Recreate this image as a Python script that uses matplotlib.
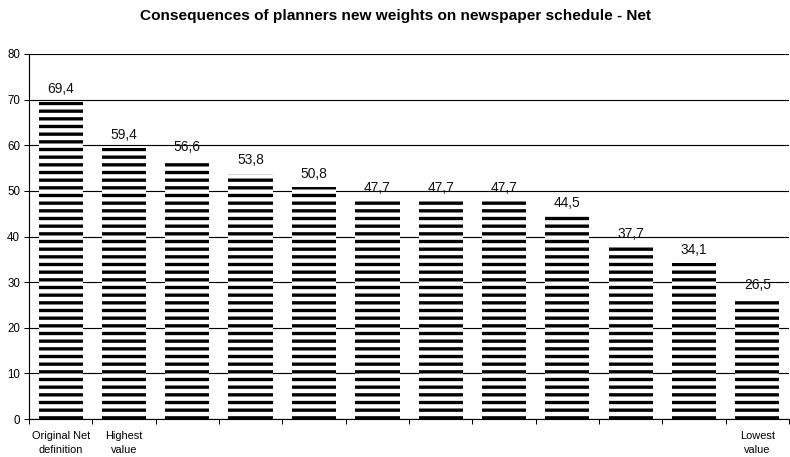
import matplotlib
matplotlib.use("Agg")
import matplotlib.pyplot as plt
import numpy as np

plt.rcParams['font.family'] = ['Liberation Sans', 'DejaVu Sans']
plt.rcParams['hatch.linewidth'] = 2.6

title = "Consequences of planners new weights on newspaper schedule - Net"
values = [69.4, 59.4, 56.6, 53.8, 50.8, 47.7, 47.7, 47.7, 44.5, 37.7, 34.1, 26.5]
categories = ["Original Net\ndefinition", "Highest\nvalue", "", "", "", "", "",
              "", "", "", "", "Lowest\nvalue"]
yticks = [0, 10, 20, 30, 40, 50, 60, 70, 80]

DPI = 92
fig = plt.figure(figsize=(790 / DPI, 457 / DPI), dpi=DPI)
ax = fig.add_axes([29 / 790, 1 - 419 / 457, 760 / 790, 365 / 457])

x = np.arange(len(values))
ax.bar(x, values, width=0.7, color='white', edgecolor='black', linewidth=0,
       hatch='--', zorder=2)

for xi, v in zip(x, values):
    ax.annotate(f"{v:.1f}".replace('.', ','), (xi, v), xytext=(0, 5),
                textcoords='offset points', ha='center', va='bottom',
                fontsize=10.8, color='#111111')

ax.set_xlim(-0.5, len(values) - 0.5)
ax.set_ylim(0, 80)
ax.set_yticks(yticks)
ax.set_yticklabels([str(t) for t in yticks], fontsize=9)
ax.yaxis.grid(True, color='black', linewidth=0.9, zorder=0)
ax.set_axisbelow(True)

ax.set_xticks(x)
ax.set_xticklabels(categories, fontsize=8.6, linespacing=1.45)
ax.tick_params(axis='x', length=0, pad=9.5)
ax.set_xticks(np.arange(len(values) + 1) - 0.5, minor=True)
ax.tick_params(axis='x', which='minor', length=4, direction='out', width=0.8)
ax.tick_params(axis='y', length=4, direction='out', width=0.8, pad=3)

for side in ('top', 'right'):
    ax.spines[side].set_visible(False)
ax.spines['left'].set_linewidth(0.9)
ax.spines['bottom'].set_linewidth(0.9)

fig.text(0.5, 1 - 16 / 457, title, ha='center', va='center',
         fontsize=12, fontweight='bold')

fig.savefig("out.png", dpi=DPI)
